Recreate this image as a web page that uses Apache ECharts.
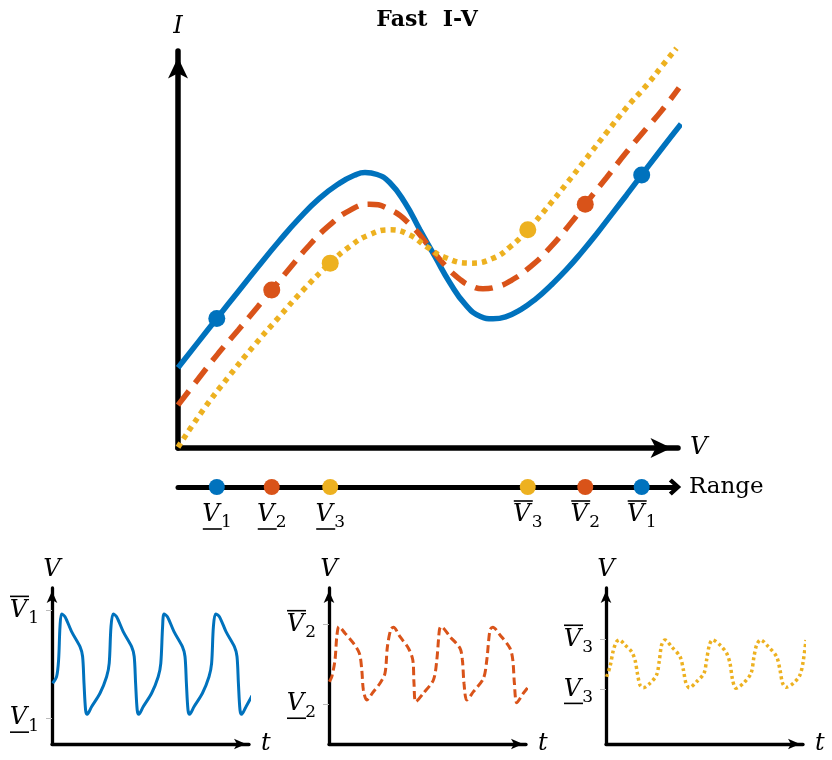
<!DOCTYPE html>
<html><head><meta charset="utf-8">
<script src="https://cdn.jsdelivr.net/npm/echarts@6/dist/echarts.min.js"></script>
<style>html,body{margin:0;padding:0;background:#fff}#c{width:832px;height:760px}</style>
</head><body><div id="c"></div>
<script>
const titleText = 'Fast  I-V';
const rangeName = 'Range';
const seriesNames = ['1', '2', '3'];
const colors = ['#0072BD', '#D95319', '#EDB120'];

// Fast I-V curves: [V, I]
const ivBlue = [[0,2.00],[0.4,2.64],[0.77,3.23],[1.2,3.91],[1.6,4.54],[2.0,5.15],[2.4,5.72],[2.8,6.22],[3.2,6.60],[3.5,6.80],[3.71,6.87],[3.95,6.82],[4.2,6.62],[4.5,6.12],[4.8,5.44],[5.1,4.77],[5.4,4.11],[5.7,3.58],[6.0,3.28],[6.25,3.22],[6.5,3.27],[6.8,3.45],[7.1,3.72],[7.4,4.06],[7.7,4.44],[8.0,4.87],[8.3,5.33],[8.6,5.82],[8.9,6.31],[9.2,6.81],[9.6,7.47],[9.98,8.08]];
const ivOrange = [[0,1.07],[0.4,1.72],[0.8,2.36],[1.2,2.95],[1.6,3.55],[1.86,3.94],[2.2,4.46],[2.6,5.05],[3.0,5.55],[3.4,5.92],[3.8,6.08],[4.2,5.95],[4.6,5.58],[5.0,5.00],[5.3,4.55],[5.6,4.20],[5.8,4.05],[6.05,3.97],[6.3,4.01],[6.6,4.17],[7.0,4.53],[7.4,5.02],[7.8,5.62],[8.08,6.08],[8.5,6.74],[8.9,7.38],[9.3,7.98],[9.6,8.42],[9.94,8.98]];
const ivYellow = [[0,0.02],[0.5,0.95],[1.0,1.77],[1.5,2.54],[2.0,3.26],[2.5,3.96],[3.02,4.61],[3.4,5.02],[3.8,5.32],[4.21,5.44],[4.6,5.31],[4.93,5.02],[5.3,4.75],[5.79,4.61],[6.25,4.73],[6.6,5.03],[6.94,5.44],[7.3,5.96],[7.7,6.58],[8.1,7.22],[8.5,7.86],[8.9,8.49],[9.3,9.05],[9.6,9.52],[9.89,9.97]];

// Range end points (V) and the current at those points
const vLower = [0.77, 1.86, 3.02];
const vUpper = [9.20, 8.08, 6.94];
const iAtLower = [3.23, 3.94, 4.61];
const iAtUpper = [6.81, 6.08, 5.44];

// Oscillations V(t): [t, V]
const waveBlue = [[0.03,3.50],[0.23,4.01],[0.33,5.32],[0.40,7.93],[0.48,8.92],
 [0.65,8.71],[0.98,7.54],[1.40,6.36],[1.53,5.59],[1.60,3.50],[1.68,1.41],[1.76,1.07],
 [1.98,1.67],[2.40,2.72],[2.73,4.01],[2.86,5.06],[2.95,7.93],[3.06,8.92],
 [3.23,8.71],[3.56,7.54],[3.98,6.36],[4.11,5.59],[4.18,3.50],[4.26,1.41],[4.34,1.07],
 [4.56,1.67],[4.98,2.72],[5.31,4.01],[5.44,5.06],[5.53,7.93],[5.60,8.92],
 [5.77,8.71],[6.10,7.54],[6.52,6.36],[6.65,5.59],[6.72,3.50],[6.80,1.41],[6.88,1.07],
 [7.10,1.67],[7.52,2.72],[7.85,4.01],[7.98,5.06],[8.07,7.93],[8.18,8.92],
 [8.37,8.71],[8.70,7.54],[9.12,6.36],[9.25,5.59],[9.32,3.50],[9.40,1.41],[9.48,1.07],
 [9.70,1.67],[10.0,2.53]];
const waveOrange = [[0.02,3.62],[0.14,4.01],[0.30,5.32],[0.39,7.14],[0.50,7.93],
 [0.80,7.41],[1.22,6.63],[1.52,5.84],[1.64,4.54],[1.72,2.97],[1.89,2.19],
 [2.22,2.84],[2.55,3.50],[2.80,4.28],[2.92,6.36],[3.09,7.72],[3.22,7.88],
 [3.55,7.14],[3.97,6.24],[4.19,5.32],[4.25,3.50],[4.34,2.06],
 [4.72,2.72],[5.22,3.76],[5.39,5.32],[5.52,7.67],[5.60,7.93],
 [6.05,7.14],[6.55,6.24],[6.67,5.32],[6.75,3.50],[6.89,2.19],
 [7.22,2.84],[7.72,3.87],[7.89,5.32],[8.05,7.67],[8.19,7.88],
 [8.55,7.28],[9.05,6.24],[9.19,5.32],[9.27,3.50],[9.39,1.98],
 [9.72,2.72],[9.97,3.23]];
const waveYellow = [[0.03,4.01],[0.20,4.80],[0.37,6.10],[0.53,6.75],[0.67,6.89],
 [0.95,6.49],[1.28,5.97],[1.45,5.32],[1.57,4.28],[1.70,3.36],[1.87,3.15],
 [2.20,3.50],[2.53,4.15],[2.67,5.32],[2.78,6.49],[2.95,6.89],
 [3.28,6.36],[3.70,5.58],[3.87,4.54],[4.00,3.50],[4.17,3.15],
 [4.53,3.62],[4.90,4.28],[5.03,5.32],[5.17,6.49],[5.33,6.89],
 [5.70,6.49],[6.03,5.85],[6.20,5.06],[6.33,3.76],[6.50,3.11],
 [6.87,3.50],[7.25,4.28],[7.40,5.58],[7.53,6.49],[7.73,6.89],
 [8.12,6.36],[8.53,5.58],[8.70,4.54],[8.83,3.50],[9.00,3.18],
 [9.37,3.50],[9.70,4.15],[9.87,5.32],[10.0,6.89]];

const ivData = [ivBlue, ivOrange, ivYellow];
const waves = [waveBlue, waveOrange, waveYellow];

const FONT = 'DejaVu Serif';
const rich = {
  v: {fontFamily: FONT, fontStyle: 'italic', fontSize: 24, color: '#000', lineHeight: 24, width: 18},
  s: {fontFamily: FONT, fontSize: 17, color: '#000', lineHeight: 24, padding: [16, 0, 0, 1], width: 11},
  o0: {width: 1, height: 1.6, lineHeight: 4, fontSize: 1},
  ob: {width: 19, height: 1.6, lineHeight: 4, fontSize: 1, backgroundColor: '#000'},
  sp: {width: 10, height: 1.6, lineHeight: 4, fontSize: 1},
  pad: {width: 30, height: 1, lineHeight: 4, fontSize: 1}
};
function barLine() { return '{o0| }{ob| }{sp| }'; }
function mainLine(n) { return '{v|V}{s|' + n + '}'; }
function lowLabel(n) { return '{pad| }\n' + mainLine(n) + '\n' + barLine(); }
function highLabel(n) { return barLine() + '\n' + mainLine(n) + '\n{pad| }'; }

const mainLineStyles = [
  {width: 5.5, type: 'solid'},
  {width: 5.5, type: [18, 10]},
  {width: 5.5, type: [5, 5]}
];
const smallLineStyles = [
  {width: 3, type: 'solid'},
  {width: 3, type: [8, 4]},
  {width: 3.5, type: [3, 3]}
];

const nameStyle = {fontFamily: FONT, fontStyle: 'italic', fontSize: 24, color: '#000'};
const chevron = 'path://M0,11L10,0L20,11L16.5,14.5L10,7L3.5,14.5Z';

const grids = [
  {left: 178, top: 51, width: 500, height: 397},
  {left: 178, top: 477, width: 497, height: 10},
  {left: 52, top: 588, width: 197, height: 156},
  {left: 329, top: 588, width: 197, height: 156},
  {left: 606, top: 588, width: 197, height: 156}
];

const xAxes = [
  {gridIndex: 0, type: 'value', min: 0, max: 9.92, name: 'V', nameLocation: 'end', nameGap: 12, nameTextStyle: nameStyle,
   axisLine: {onZero: false, lineStyle: {color: '#000', width: 5.5}, symbol: ['none', 'arrow'], symbolSize: [15, 21], symbolOffset: [0, -6.5]},
   axisTick: {show: false}, axisLabel: {show: false}, splitLine: {show: false}},
  {gridIndex: 1, type: 'value', min: 0, max: 9.861, name: rangeName, nameLocation: 'end', nameGap: 14,
   nameTextStyle: {fontFamily: FONT, fontSize: 23, color: '#000'},
   axisLine: {onZero: false, lineStyle: {color: '#000', width: 5}, symbol: ['none', chevron], symbolSize: [17, 13], symbolOffset: [0, 0]},
   axisTick: {show: false}, axisLabel: {show: false}, splitLine: {show: false}}
];
const yAxes = [
  {gridIndex: 0, type: 'value', min: 0, max: 9.90, name: 'I', nameLocation: 'end', nameGap: 12, nameTextStyle: nameStyle,
   axisLine: {onZero: false, lineStyle: {color: '#000', width: 5.5}, symbol: ['none', 'arrow'], symbolSize: [15, 21], symbolOffset: [0, -6.5]},
   axisTick: {show: false}, axisLabel: {show: false}, splitLine: {show: false}},
  {gridIndex: 1, type: 'value', min: 0, max: 1, show: false}
];
for (let i = 0; i < 3; i++) {
  xAxes.push({gridIndex: 2 + i, type: 'value', min: 0, max: 9.85, name: 't', nameLocation: 'end', nameGap: 12, nameTextStyle: nameStyle,
    axisLine: {onZero: false, lineStyle: {color: '#000', width: 3.3}, symbol: ['none', 'arrow'], symbolSize: [8, 12], symbolOffset: [0, -3]},
    axisTick: {show: false}, axisLabel: {show: false}, splitLine: {show: false}});
  const lo = vLower[i], hi = vUpper[i], n = seriesNames[i];
  yAxes.push({gridIndex: 2 + i, type: 'value', min: -1.25, max: 10.95, name: 'V', nameLocation: 'end', nameGap: 6, nameTextStyle: nameStyle,
    axisLine: {onZero: false, lineStyle: {color: '#000', width: 3.3}, symbol: ['none', 'arrow'], symbolSize: [8, 12], symbolOffset: [0, -3]},
    axisTick: {show: true, customValues: [lo, hi], length: 6, lineStyle: {color: '#bbb', width: 1}},
    axisLabel: {show: true, customValues: [lo, hi], margin: 13, rich: rich,
      formatter: function (val) { return Math.abs(val - hi) < 1e-6 ? highLabel(n) : lowLabel(n); }},
    splitLine: {show: false}});
}

const series = [];
for (let i = 0; i < 3; i++) {
  series.push({type: 'line', xAxisIndex: 0, yAxisIndex: 0, data: ivData[i], smooth: 0.5, showSymbol: false, clip: false,
    lineStyle: Object.assign({color: colors[i], cap: 'butt'}, mainLineStyles[i]), z: 3 + i, silent: true});
}
for (let i = 0; i < 3; i++) {
  series.push({type: 'scatter', xAxisIndex: 0, yAxisIndex: 0, data: [[vLower[i], iAtLower[i]], [vUpper[i], iAtUpper[i]]],
    symbolSize: 17, itemStyle: {color: colors[i], opacity: 1}, z: 10, silent: true});
}
for (let i = 0; i < 3; i++) {
  const n = seriesNames[i];
  series.push({type: 'scatter', xAxisIndex: 1, yAxisIndex: 1, data: [[vLower[i], 0], [vUpper[i], 0]],
    symbolSize: 16, itemStyle: {color: colors[i], opacity: 1}, z: 10, silent: true,
    label: {show: true, position: 'inside', offset: [0, 28], rich: rich,
      formatter: function (p) { return p.dataIndex === 0 ? lowLabel(n) : highLabel(n); }}});
}
for (let i = 0; i < 3; i++) {
  series.push({type: 'line', xAxisIndex: 2 + i, yAxisIndex: 2 + i, data: waves[i], smooth: 0.3, showSymbol: false, clip: false,
    lineStyle: Object.assign({color: colors[i]}, smallLineStyles[i]), z: 3, silent: true});
}

const chart = echarts.init(document.getElementById('c'), null, {renderer: 'canvas'});
chart.setOption({
  backgroundColor: '#fff',
  animation: false,
  textStyle: {fontFamily: FONT},
  title: {text: titleText, left: 422, top: 4, textAlign: 'center',
    textStyle: {fontFamily: FONT, fontWeight: 'bold', fontSize: 22, color: '#000'}},
  grid: grids,
  xAxis: xAxes,
  yAxis: yAxes,
  series: series
});
</script>
</body></html>
